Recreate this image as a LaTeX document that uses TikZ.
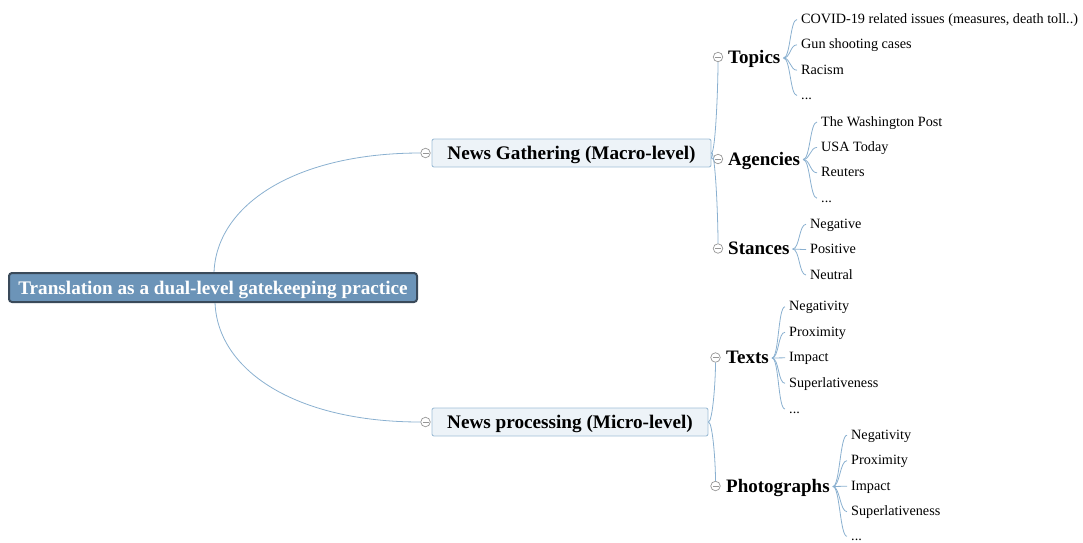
\documentclass[tikz,border=0pt]{standalone}
\usepackage{fontspec}
\setmainfont{Liberation Serif}
\definecolor{linkc}{RGB}{138,176,208}
\definecolor{rootfill}{RGB}{108,148,184}
\definecolor{rootdraw}{RGB}{58,74,90}
\definecolor{boxfill}{RGB}{237,243,248}
\definecolor{boxdraw}{RGB}{160,190,214}
\definecolor{togc}{RGB}{150,150,150}
\tikzset{
  rootbox/.style={draw=rootdraw, fill=rootfill, line width=2pt, rounded corners=3pt,
    minimum width=408pt, minimum height=29pt, inner sep=0pt, text depth=0pt, text=white,
    font=\fontsize{19.2}{22}\selectfont\bfseries},
  mainbox/.style={draw=boxdraw, fill=boxfill, line width=0.9pt, rounded corners=2pt,
    minimum height=28pt, inner sep=0pt, text depth=0pt, font=\fontsize{19.2}{22}\selectfont\bfseries},
  sub/.style={anchor=base west, inner sep=0pt, font=\fontsize{19}{22}\selectfont\bfseries},
  leaf/.style={anchor=base west, inner sep=0pt, font=\fontsize{14.2}{17}\selectfont},
  tog/.style={circle, draw=togc, fill=white, line width=0.7pt, minimum size=9.5pt, inner sep=0pt,
    path picture={\draw[togc, line width=0.7pt] ([xshift=-3pt]path picture bounding box.center) -- ([xshift=3pt]path picture bounding box.center);}},
  link/.style={draw=linkc, line width=0.8pt}
}
\begin{document}
\begin{tikzpicture}[x=1pt,y=-1pt]
\useasboundingbox (0,0) rectangle (1083,542);

% main nodes
\node[mainbox, minimum width=279pt] (ng) at (571.5,153) {News Gathering (Macro-level)};
\node[mainbox, minimum width=276pt] (np) at (570,422) {News processing (Micro-level)};
\node[tog] (cng) at (425.5,153) {};
\node[tog] (cnp) at (425.5,422) {};

% root connectors
\coordinate (rtop) at (214,273);
\coordinate (rbot) at (215,302);
\draw[link] (rtop) .. controls (216,205) and (295,153) .. (cng.west);
\draw[link] (rbot) .. controls (217,370) and (295,422) .. (cnp.west);
\node[rootbox] (root) at (213,287.5) {Translation as a dual-level gatekeeping practice};

% subtopics
\node[sub] (topics) at (728,63.5) {Topics};
\node[sub] (agencies) at (728,165) {Agencies};
\node[sub] (stances) at (728,254.5) {Stances};
\node[sub] (texts) at (726,363.5) {Texts};
\node[sub] (photos) at (726,492) {Photographs};

\node[tog] (ctop) at (718,57) {};
\node[tog] (cag) at (718,159) {};
\node[tog] (cst) at (718,248.5) {};
\node[tog] (ctx) at (715.5,357.5) {};
\node[tog] (cph) at (715.5,486) {};

\draw[link] (ng.east) .. controls +(4,0) and +(0,25) .. (ctop.south);
\draw[link] (ng.east) .. controls +(3,0) and +(-4,0) .. (cag.west);
\draw[link] (ng.east) .. controls +(4,0) and +(0,-25) .. (cst.north);
\draw[link] (np.east) .. controls +(4,0) and +(0,20) .. (ctx.south);
\draw[link] (np.east) .. controls +(4,0) and +(0,-20) .. (cph.north);

% leaves: Topics
\node[leaf] (t1) at (801,23.5) {COVID-19 related issues (measures, death toll..)};
\node[leaf] (t2) at (801,48.8) {Gun shooting cases};
\node[leaf] (t3) at (801,74.2) {Racism};
\node[leaf] (t4) at (801,99.5) {...};
% Agencies
\node[leaf] (a1) at (821,126) {The Washington Post};
\node[leaf] (a2) at (821,151.4) {USA Today};
\node[leaf] (a3) at (821,176.8) {Reuters};
\node[leaf] (a4) at (821,202.2) {...};
% Stances
\node[leaf] (s1) at (810,228.3) {Negative};
\node[leaf] (s2) at (810,253.6) {Positive};
\node[leaf] (s3) at (810,279) {Neutral};
% Texts
\node[leaf] (x1) at (789,310.8) {Negativity};
\node[leaf] (x2) at (789,336.2) {Proximity};
\node[leaf] (x3) at (789,361.8) {Impact};
\node[leaf] (x4) at (789,387.3) {Superlativeness};
\node[leaf] (x5) at (789,413) {...};
% Photographs
\node[leaf] (p1) at (851,439.2) {Negativity};
\node[leaf] (p2) at (851,464.6) {Proximity};
\node[leaf] (p3) at (851,490.2) {Impact};
\node[leaf] (p4) at (851,515.7) {Superlativeness};
\node[leaf] (p5) at (851,540.3) {...};

\foreach \s/\l in {topics/{t1,t2,t3,t4}, agencies/{a1,a2,a3,a4}, stances/{s1,s2,s3},
                   texts/{x1,x2,x3,x4,x5}, photos/{p1,p2,p3,p4,p5}}{
  \foreach \c in \l
    \draw[link] ([xshift=3pt,yshift=5.5pt]\s.base east) .. controls +(7,0) and +(-7,0) .. ([xshift=-4pt,yshift=4pt]\c.base west);
}
\end{tikzpicture}
\end{document}
